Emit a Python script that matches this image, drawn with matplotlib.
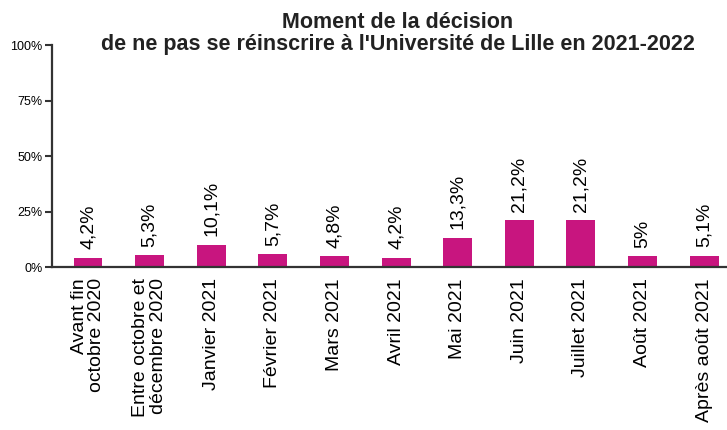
import numpy as np
import matplotlib.pyplot as plt

plt.rcParams['font.family'] = ['Liberation Sans', 'DejaVu Sans']

# data
categories = ["Avant fin\noctobre 2020", "Entre octobre et\ndécembre 2020", "Janvier 2021",
              "Février 2021", "Mars 2021", "Avril 2021", "Mai 2021", "Juin 2021",
              "Juillet 2021", "Août 2021", "Après août 2021"]
values = [4.2, 5.3, 10.1, 5.7, 4.8, 4.2, 13.3, 21.2, 21.2, 5, 5.1]
value_labels = ["4,2%", "5,3%", "10,1%", "5,7%", "4,8%", "4,2%", "13,3%", "21,2%",
                "21,2%", "5%", "5,1%"]
yticks = [0, 25, 50, 75, 100]

fig = plt.figure(figsize=(7.27, 4.30), dpi=100)
ax = fig.add_axes([0.0715, 0.379, 0.93, 0.516])

x = np.arange(len(categories))
bars = ax.bar(x, values, width=0.47, color="#C8157F")

for b, lab in zip(bars, value_labels):
    ax.annotate(lab, (b.get_x() + b.get_width() / 2, b.get_height()),
                xytext=(0, 6), textcoords="offset points",
                rotation=90, ha="center", va="bottom", fontsize=14)

ax.set_xlim(-0.585, 10.39)
ax.set_ylim(0, 100)
ax.set_yticks(yticks)
ax.set_yticklabels([f"{t}%" for t in yticks], fontsize=9)
ax.set_xticks(x)
ax.set_xticklabels(categories, rotation=90, fontsize=14, va="top", ha="center",
                   multialignment="right", linespacing=1.05)
ax.tick_params(axis="x", length=0, pad=8)
ax.tick_params(axis="y", length=5, width=1.5, color="#333333", pad=2)

for s in ["top", "right"]:
    ax.spines[s].set_visible(False)
for s in ["left", "bottom"]:
    ax.spines[s].set_linewidth(1.6)
    ax.spines[s].set_color("#333333")

fig.text(0.547, 0.972, "Moment de la décision\nde ne pas se réinscrire à l'Université de Lille en 2021-2022",
         ha="center", va="top", fontsize=15.5, fontweight="bold", color="#222222",
         linespacing=1.03)

fig.savefig("out.png", dpi=100)
